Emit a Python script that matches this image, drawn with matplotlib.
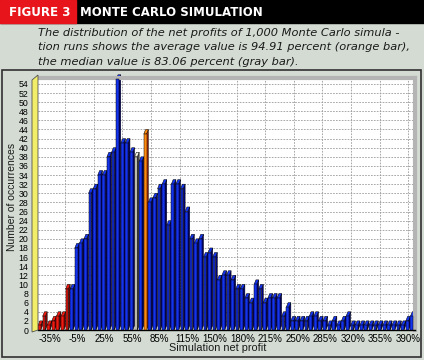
import matplotlib.pyplot as plt
from matplotlib.patches import Rectangle, Polygon

# number of runs per profit bin (left to right)
counts = [1, 3, 1, 2, 3, 3, 9,
          9, 18, 19, 20, 30, 31, 34, 34, 38, 39,
          55, 41, 41, 39, 38, 37, 43,
          28, 29, 31, 32, 23, 32, 32, 31,
          26, 20, 19, 20, 16, 17, 16, 11, 12, 12,
          11, 9, 9, 7, 6, 10, 9, 6, 7, 7, 7, 3, 5,
          2, 2, 2, 2, 3, 3, 2, 2, 1, 2, 1, 2, 3, 1, 1,
          1, 1, 1, 1, 1, 1, 1, 1, 1, 1, 2, 3]
n_loss = 7        # first bins are losing runs (red)
median_bin = 21   # gray bar
mean_bin = 23     # orange bar

xlabels = ['-35%', '-5%', '25%', '55%', '85%', '115%', '150%', '180%',
           '215%', '250%', '285%', '320%', '355%', '390%']
label_bins = list(range(2, 82, 6))
yticks = list(range(0, 56, 2))

W, H = 424, 360
plt.rcParams['font.family'] = ['Liberation Sans', 'DejaVu Sans']

fig = plt.figure(figsize=(W / 100, H / 100), dpi=100)
fig.patch.set_facecolor('#d3dbd3')


def px(x, y):
    return x / W, 1 - y / H


# header band
fig.patches.append(Rectangle(px(0, 23), 1, 23 / H, transform=fig.transFigure,
                             color='black', zorder=0))
fig.patches.append(Rectangle(px(0, 23), 76 / W, 23 / H, transform=fig.transFigure,
                             color='#e8141c', zorder=1))
fig.text(*px(9, 12), 'FIGURE 3', color='white', fontsize=8.6, fontweight='bold',
         family='DejaVu Sans', va='center')
fig.text(*px(80, 12), 'MONTE CARLO SIMULATION', color='white', fontsize=8.5,
         fontweight='bold', family='DejaVu Sans', va='center')

caption = ['The distribution of the net profits of 1,000 Monte Carlo simula -',
           'tion runs shows the average value is 94.91 percent (orange bar),',
           'the median value is 83.06 percent (gray bar).']
for k, line in enumerate(caption):
    fig.text(*px(38, 33 + 14.5 * k), line, fontsize=8.2, style='italic',
             family='DejaVu Sans', color='#1a1a1a', va='center')

# chart panel frame
fig.patches.append(Rectangle(px(2, 357), 419 / W, 287 / H, transform=fig.transFigure,
                             fill=False, edgecolor='#303030', lw=1.2, zorder=1))

ax = fig.add_axes([38 / W, 1 - 330 / H, 377 / W, 252 / H])
ax.set_facecolor('white')
ax.set_xlim(-0.5, 81.5)
ax.set_ylim(0, 55.3)

# back wall grid
for gx in [5.4 + 6.22 * k for k in range(13)]:
    ax.axvline(gx, color='#9a9a9a', lw=0.6, ls=(0, (2, 1.5)), zorder=0)
for gy in yticks[1:]:
    ax.axhline(gy, color='#9a9a9a', lw=0.6, ls=(0, (2, 1.5)), zorder=0)

dx, dy, fw = 0.4, 1.0, 0.6
for i, h in enumerate(counts):
    if i == median_bin:
        front, side = '#f6f6e6', '#505050'
    elif i == mean_bin:
        front, side = '#ff8a10', '#a82408'
    elif i < n_loss:
        front, side = '#f01a10', '#8a0000'
    else:
        front, side = '#1433ee', '#00007e'
    x0 = i - 0.5
    x1 = x0 + fw
    ax.add_patch(Polygon([(x1, 0), (x1, h), (x1 + dx, h + dy), (x1 + dx, dy)],
                         closed=True, fc=side, ec='black', lw=0.35, zorder=2,
                         clip_on=False))
    ax.add_patch(Polygon([(x0, h), (x1, h), (x1 + dx, h + dy), (x0 + dx, h + dy)],
                         closed=True, fc=front, ec='black', lw=0.35, zorder=2,
                         clip_on=False))
    ax.add_patch(Rectangle((x0, 0), fw, h, fc=front, ec='black', lw=0.35, zorder=3,
                           clip_on=False))

ax.set_xticks(label_bins)
ax.set_xticklabels(xlabels, fontsize=7)
ax.set_yticks(yticks)
ax.set_yticklabels([str(v) for v in yticks], fontsize=6.3)
ax.tick_params(axis='x', length=0, pad=3)
ax.tick_params(axis='y', length=0, pad=7)

for s in ['top', 'right']:
    ax.spines[s].set_color('#b4b4b4')
    ax.spines[s].set_linewidth(3)
ax.spines['bottom'].set_color('black')
ax.spines['bottom'].set_linewidth(1)
ax.spines['left'].set_visible(False)

# yellow side wall on the left
fig.patches.append(Polygon([px(32, 332), px(32, 80), px(38, 75), px(38, 330)],
                           closed=True, transform=fig.transFigure,
                           fc='#f2ee6a', ec='#505050', lw=0.6, zorder=2))

fig.text(*px(12, 197), 'Number of occurrences', rotation=90, fontsize=7.5,
         ha='center', va='center', color='#1a1a1a')
fig.text(*px(218, 348), 'Simulation net profit', fontsize=7.8,
         ha='center', va='center', color='#1a1a1a')

fig.savefig('out.png', dpi=100, facecolor=fig.get_facecolor())
